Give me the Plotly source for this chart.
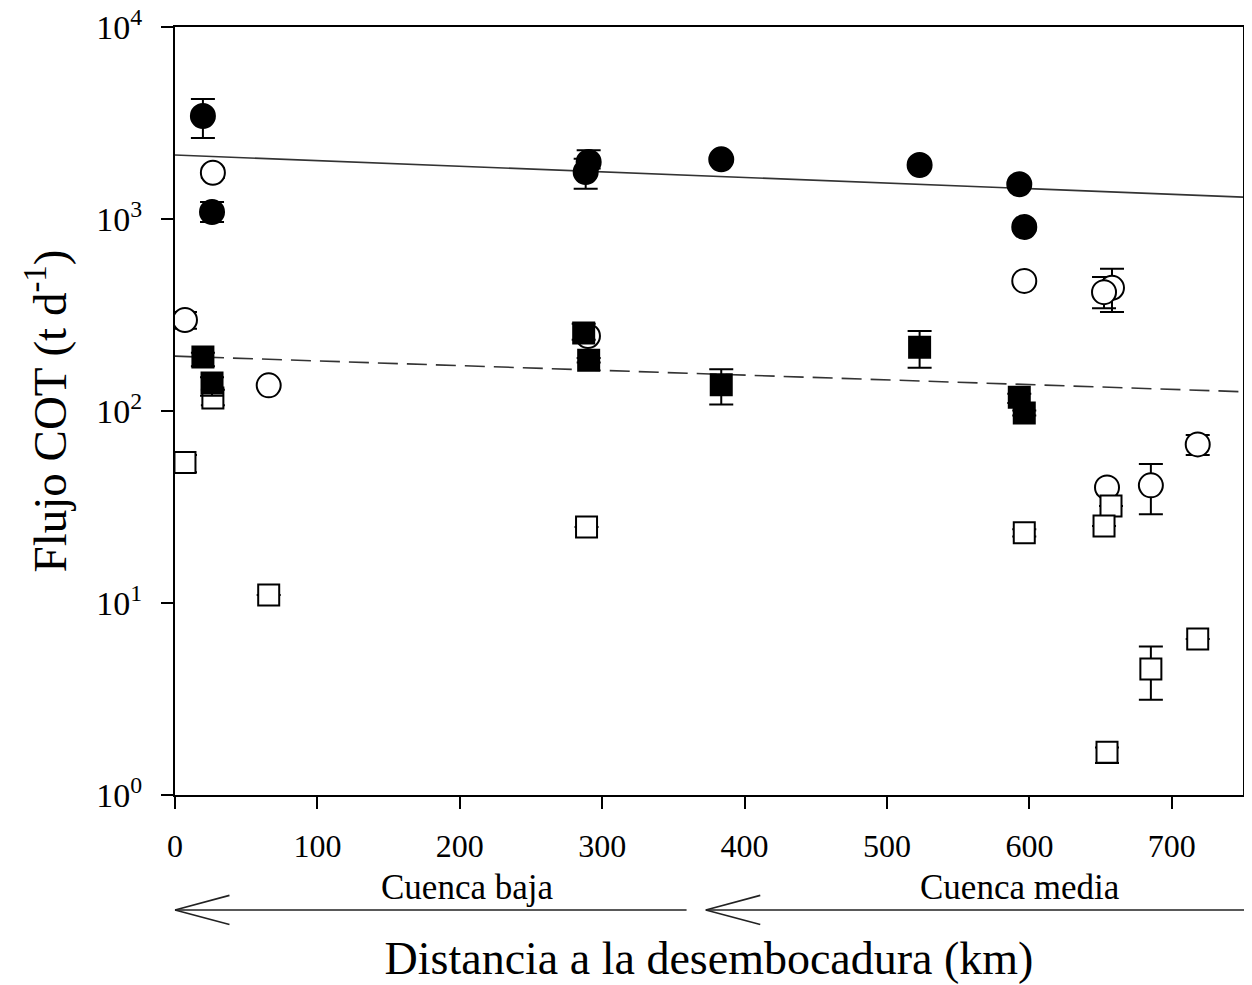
import plotly.graph_objects as go

# ---- data ----
fc_x = [19.6, 26.0, 288.4, 290.5, 383.6, 522.9, 592.9, 596.4]
fc_y = [3440, 1087, 1757, 1980, 2045, 1910, 1517, 908]
fc_ep = [780, 140, 300, 300, 60, 60, 60, 40]
fc_em = [800, 123, 320, 150, 60, 60, 60, 40]

oc_x = [7.0, 26.6, 65.8, 290.0, 596.4, 658.0, 652.4, 654.5, 685.3, 718.2]
oc_y = [298, 1740, 136, 246, 476, 438, 416, 40, 41, 67]
oc_ep = [30, 100, 0, 0, 0, 112, 83, 0, 12, 8]
oc_em = [30, 100, 0, 0, 0, 110, 73, 0, 12, 8]

fs_x = [19.6, 26.0, 287.0, 290.5, 383.6, 522.9, 592.9, 596.4]
fs_y = [191, 140, 255, 184, 137, 215, 118, 97.7]
fs_ep = [10, 10, 30, 5, 28, 46, 5, 3]
fs_em = [20, 20, 20, 5, 29, 47, 8, 3]

os_x = [7.0, 26.6, 65.8, 289.0, 596.4, 657.3, 652.4, 654.5, 685.3, 718.2]
os_y = [54, 117, 11, 24.9, 23.2, 32, 25.2, 1.67, 4.53, 6.5]
os_ep = [5, 12, 0, 0, 1, 0, 0, 0.1, 1.4, 0]
os_em = [6, 10, 0, 0, 1, 0, 0, 0.2, 1.4, 0]

reg_x = [0, 750]
reg_solid_y = [2154, 1300]
reg_dash_y = [193, 126]

y_tickvals = [1, 10, 100, 1000, 10000]
y_ticktext = ["10<sup>0</sup>", "10<sup>1</sup>", "10<sup>2</sup>", "10<sup>3</sup>", "10<sup>4</sup>"]
x_tickvals = [0, 100, 200, 300, 400, 500, 600, 700]

FONT = "Liberation Serif"

fig = go.Figure()

# regression lines
fig.add_trace(go.Scatter(x=reg_x, y=reg_solid_y, mode="lines",
                         line=dict(color="#333333", width=1.6), showlegend=False))
fig.add_trace(go.Scatter(x=reg_x, y=reg_dash_y, mode="lines",
                         line=dict(color="#333333", width=1.6, dash="20px,9px"), showlegend=False))


def err(p, m):
    return dict(type="data", symmetric=False, array=p, arrayminus=m,
                color="black", thickness=2, width=12)


fig.add_trace(go.Scatter(x=oc_x, y=oc_y, mode="markers", error_y=err(oc_ep, oc_em),
                         marker=dict(symbol="circle", size=24, color="white",
                                     line=dict(color="black", width=2)), showlegend=False))
fig.add_trace(go.Scatter(x=os_x, y=os_y, mode="markers", error_y=err(os_ep, os_em),
                         marker=dict(symbol="square", size=21, color="white",
                                     line=dict(color="black", width=2)), showlegend=False))
fig.add_trace(go.Scatter(x=fs_x, y=fs_y, mode="markers", error_y=err(fs_ep, fs_em),
                         marker=dict(symbol="square", size=21, color="black",
                                     line=dict(color="black", width=2)), showlegend=False))
fig.add_trace(go.Scatter(x=fc_x, y=fc_y, mode="markers", error_y=err(fc_ep, fc_em),
                         marker=dict(symbol="circle", size=24, color="black",
                                     line=dict(color="black", width=2)), showlegend=False))

# arrows and region labels below the axis (paper coordinates)
ay = -0.1497
arm_dy = 0.019
shapes = []
for x0, x1 in [(0.0, 0.479), (0.497, 1.009)]:
    shapes.append(dict(type="line", xref="paper", yref="paper", x0=x0, x1=x1, y0=ay, y1=ay,
                       line=dict(color="#222222", width=1.6)))
    shapes.append(dict(type="line", xref="paper", yref="paper", x0=x0, x1=x0 + 0.051,
                       y0=ay, y1=ay + arm_dy, line=dict(color="#222222", width=1.6)))
    shapes.append(dict(type="line", xref="paper", yref="paper", x0=x0, x1=x0 + 0.051,
                       y0=ay, y1=ay - arm_dy, line=dict(color="#222222", width=1.6)))

annotations = [
    dict(text="Cuenca baja", xref="paper", yref="paper", x=0.273, y=-0.121,
         xanchor="center", yanchor="middle",
         showarrow=False, font=dict(family=FONT, size=35, color="black")),
    dict(text="Cuenca media", xref="paper", yref="paper", x=0.791, y=-0.121,
         xanchor="center", yanchor="middle",
         showarrow=False, font=dict(family=FONT, size=35, color="black")),
]

fig.update_layout(
    width=1244, height=977,
    margin=dict(l=167, r=9, t=19, b=190, autoexpand=False),
    paper_bgcolor="white", plot_bgcolor="white",
    font=dict(family=FONT, color="black"),
    shapes=shapes, annotations=annotations,
    xaxis=dict(range=[0, 750], tickvals=x_tickvals, ticks="outside", ticklen=12, tickwidth=1.5,
               tickcolor="black", showline=True, linecolor="black", linewidth=2, mirror=True,
               showgrid=False, zeroline=False, tickfont=dict(family=FONT, size=32),
               ticklabelstandoff=10, automargin=False, ticklabeloverflow="allow",
               title=dict(text="Distancia a la desembocadura (km)", standoff=78,
                          font=dict(family=FONT, size=46))),
    yaxis=dict(type="log", range=[0, 4], tickvals=y_tickvals, ticktext=y_ticktext,
               ticks="outside", ticklen=12, tickwidth=1.5, tickcolor="black",
               showline=True, linecolor="black", linewidth=2, mirror=True,
               showgrid=False, zeroline=False, tickfont=dict(family=FONT, size=34),
               ticklabelstandoff=12, automargin=False, ticklabeloverflow="allow",
               title=dict(text="Flujo COT (t d<sup>-1</sup>)", standoff=15,
                          font=dict(family=FONT, size=47))),
)

fig.write_html("out.html")
